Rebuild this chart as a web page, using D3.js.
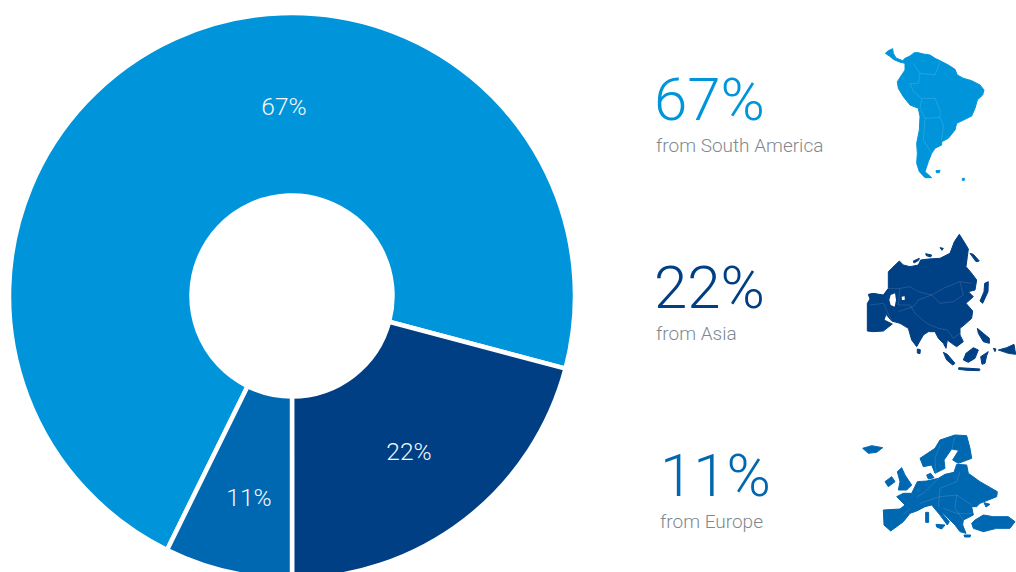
<!DOCTYPE html>
<html>
<head>
<meta charset="utf-8">
<script src="https://cdn.jsdelivr.net/npm/d3@7"></script>
<style>
    html, body { margin: 0; padding: 0; background: #ffffff; overflow: hidden; }
    svg { display: block; }
    text { font-family: Roboto, "Open Sans", sans-serif; }
</style>
</head>
<body>
<svg></svg>
<script>
const regions = ["South America", "Asia", "Europe"];
const percentLabels = ["67%", "22%", "11%"];
// share of the ring each slice really takes in the picture (not the same as its label)
const sliceShares = [71.85, 20.87, 7.28];
const sliceColors = ["#0095da", "#003f84", "#0067b1"];

// map outlines in a 3x grid
const southAmericaShapes = [
    [[76,70],[85,62],[98,56],[100,70],[108,84],[118,88],[128,92],[135,85],[150,78],[163,68],[175,68],[190,72],[210,75],[225,85],[240,92],[265,105],[285,118],[292,135],[310,145],[335,152],[360,165],[372,180],[368,195],[352,210],[345,235],[335,258],[315,268],[290,280],[285,300],[265,325],[245,335],[245,345],[225,355],[215,370],[205,395],[200,410],[195,425],[215,443],[195,443],[178,425],[170,400],[172,370],[170,340],[178,300],[180,260],[175,235],[150,225],[130,200],[115,175],[112,155],[125,135],[135,120],[135,100],[118,96],[100,88],[88,78]],
    [[228,422],[240,421],[238,428],[229,428]],
    [[307,445],[313,445],[313,451],[307,451]]
];
const southAmericaBorders = [
    [[150,160],[160,185],[185,205],[180,235],[195,265],[240,262],[250,285],[245,330]],
    [[185,205],[225,205],[240,240],[240,262]],
    [[160,100],[180,130],[175,160],[150,160]],
    [[180,130],[225,135],[240,95]],
    [[195,265],[190,330],[215,370]]
];
const asiaShapes = [
    [[22,318],[22,235],[30,222],[25,208],[40,205],[70,210],[85,190],[85,140],[95,130],[118,108],[130,120],[150,125],[175,120],[182,105],[205,102],[240,100],[270,85],[283,50],[298,28],[312,50],[325,72],[322,95],[318,125],[335,145],[350,165],[345,195],[325,200],[340,215],[318,235],[338,258],[335,280],[315,298],[300,310],[300,330],[310,350],[290,365],[275,355],[262,345],[258,370],[250,355],[235,340],[225,320],[205,320],[190,330],[170,365],[155,345],[145,310],[120,295],[95,288],[78,268],[72,285],[97,297],[70,318],[40,320]],
    [[330,85],[340,88],[358,108],[348,110]],
    [[385,170],[384,200],[368,235],[360,228],[372,200],[374,175]],
    [[172,372],[181,374],[180,386],[172,384]],
    [[250,382],[262,388],[285,415],[278,420],[260,405]],
    [[296,428],[330,430],[360,432],[358,437],[320,436],[296,433]],
    [[318,385],[340,368],[355,375],[345,400],[325,412],[310,405]],
    [[362,395],[385,380],[380,392],[375,415],[366,418]],
    [[415,375],[440,368],[462,358],[467,388],[445,385]],
    [[352,310],[370,325],[388,340],[388,355],[370,350],[355,325]],
    [[197,86],[215,90],[212,96],[199,92]],
    [[160,108],[178,100],[176,106],[162,114]],
    [[240,68],[250,70],[246,76]],
    [[400,370],[408,372],[405,380]]
];
const asiaHoles = [
    [[92,210],[105,205],[108,225],[104,245],[92,240],[88,225]],
    [[125,215],[134,214],[134,225],[126,225]]
];
const asiaBorders = [
    [[85,190],[120,190],[150,185],[175,200],[215,210],[250,190],[300,170],[335,175]],
    [[215,210],[240,235],[280,230],[310,210],[300,170]],
    [[120,190],[115,240],[150,240],[165,265],[200,295],[235,310],[262,315]],
    [[30,240],[70,235],[95,288]],
    [[115,260],[160,245],[175,225],[215,210]],
    [[262,315],[280,340],[300,325]]
];
const europeShapes = [
    [[70,255],[120,252],[135,240],[110,215],[130,205],[155,205],[172,170],[200,168],[235,160],[255,148],[282,142],[290,118],[320,120],[325,145],[360,170],[412,200],[410,215],[385,225],[360,235],[350,245],[335,245],[340,270],[310,285],[308,300],[318,325],[300,320],[285,300],[270,285],[245,262],[232,240],[250,270],[268,290],[262,300],[240,270],[215,240],[195,245],[170,258],[150,265],[130,290],[110,305],[92,318],[72,300]],
    [[180,100],[225,70],[240,45],[285,30],[320,32],[330,70],[335,100],[295,115],[278,105],[296,76],[275,72],[252,105],[255,130],[225,145],[215,120],[190,125]],
    [[335,295],[345,285],[370,270],[400,275],[445,275],[465,290],[450,310],[410,310],[370,320],[340,310]],
    [[112,140],[125,128],[135,150],[155,180],[140,195],[115,195],[120,170]],
    [[75,170],[95,155],[105,170],[85,185]],
    [[8,70],[35,62],[68,68],[50,82],[25,85]],
    [[197,262],[206,262],[206,292],[197,292]],
    [[228,298],[255,300],[245,312],[230,306]],
    [[200,150],[212,145],[222,158],[205,162]],
    [[312,330],[332,330],[330,336],[314,336]],
    [[372,233],[390,238],[378,246]]
];
const europeBorders = [
    [[240,60],[225,100],[228,145]],
    [[285,35],[275,75]],
    [[170,215],[190,205],[235,160]],
    [[240,190],[290,170],[300,140]],
    [[180,235],[240,215],[290,210],[335,240]],
    [[240,190],[235,245]],
    [[290,210],[285,250],[310,285]],
    [[150,250],[130,270]],
    [[250,250],[290,265],[335,265]]
];

const regionColumns = [
    { bigX: 654, bigY: 120, smallX: 656, smallY: 152 },
    { bigX: 654, bigY: 308, smallX: 656, smallY: 340 },
    { bigX: 660, bigY: 496, smallX: 660, smallY: 528 }
];
const labelSpots = [[284, 115], [409, 460], [249, 506]];

const svgCanvas = d3.select("svg")
    .attr("width", 1016)
    .attr("height", 572);

// slight softening, the maps in the reference are blurry
svgCanvas.append("defs")
    .append("filter")
    .attr("id", "soft")
    .append("feGaussianBlur")
    .attr("stdDeviation", 1.8);

// ring
const pie = d3.pie()
    .sort(null)
    .startAngle(206.2 * Math.PI / 180)
    .endAngle((206.2 + 360) * Math.PI / 180);
const arc = d3.arc()
    .innerRadius(100.5)
    .outerRadius(283);

const ring = svgCanvas.append("g")
    .attr("transform", "translate(292,296)");

ring.selectAll("path")
    .data(pie(sliceShares))
    .join("path")
    .attr("d", arc)
    .attr("fill", function(thisElement, index) {
        return sliceColors[index];
    })
    .attr("stroke", "#ffffff")
    .attr("stroke-width", 4.5);

// labels on the ring
svgCanvas.selectAll("text.ringLabel")
    .data(percentLabels)
    .join("text")
    .attr("class", "ringLabel")
    .attr("x", function(thisElement, index) { return labelSpots[index][0]; })
    .attr("y", function(thisElement, index) { return labelSpots[index][1]; })
    .attr("text-anchor", "middle")
    .attr("font-size", 24.5)
    .attr("font-weight", 300)
    .attr("fill", "#f6f8fc")
    .text(function(thisElement) { return thisElement; });

// big figures and captions
svgCanvas.selectAll("text.bigFigure")
    .data(percentLabels)
    .join("text")
    .attr("class", "bigFigure")
    .attr("x", function(thisElement, index) { return regionColumns[index].bigX; })
    .attr("y", function(thisElement, index) { return regionColumns[index].bigY; })
    .attr("font-size", 60)
    .attr("font-weight", 300)
    .attr("fill", function(thisElement, index) { return sliceColors[index]; })
    .text(function(thisElement) { return thisElement; });

svgCanvas.selectAll("text.caption")
    .data(regions)
    .join("text")
    .attr("class", "caption")
    .attr("x", function(thisElement, index) { return regionColumns[index].smallX; })
    .attr("y", function(thisElement, index) { return regionColumns[index].smallY; })
    .attr("font-size", 19)
    .attr("font-weight", 300)
    .attr("fill", "#7f888f")
    .text(function(thisElement) { return "from " + thisElement; });

// maps
const outline = d3.line().curve(d3.curveLinearClosed);
const borderLine = d3.line().curve(d3.curveLinear);

function drawMap(offsetX, offsetY, shapes, holes, borders, color) {
    const map = svgCanvas.append("g")
        .attr("transform", "translate(" + offsetX + "," + offsetY + ") scale(" + (1 / 3) + ")")
        .attr("filter", "url(#soft)");
    map.selectAll("path.land")
        .data(shapes)
        .join("path")
        .attr("class", "land")
        .attr("d", outline)
        .attr("fill", color)
        .attr("stroke", color)
        .attr("stroke-width", 3)
        .attr("stroke-linejoin", "round");
    map.selectAll("path.hole")
        .data(holes)
        .join("path")
        .attr("class", "hole")
        .attr("d", outline)
        .attr("fill", "#ffffff");
    map.selectAll("path.border")
        .data(borders)
        .join("path")
        .attr("class", "border")
        .attr("d", borderLine)
        .attr("fill", "none")
        .attr("stroke", "#ffffff")
        .attr("stroke-opacity", 0.2)
        .attr("stroke-width", 2);
}

drawMap(860, 30, southAmericaShapes, [], southAmericaBorders, sliceColors[0]);
drawMap(860, 225, asiaShapes, asiaHoles, asiaBorders, sliceColors[1]);
drawMap(860, 425, europeShapes, [], europeBorders, sliceColors[2]);
</script>
</body>
</html>
